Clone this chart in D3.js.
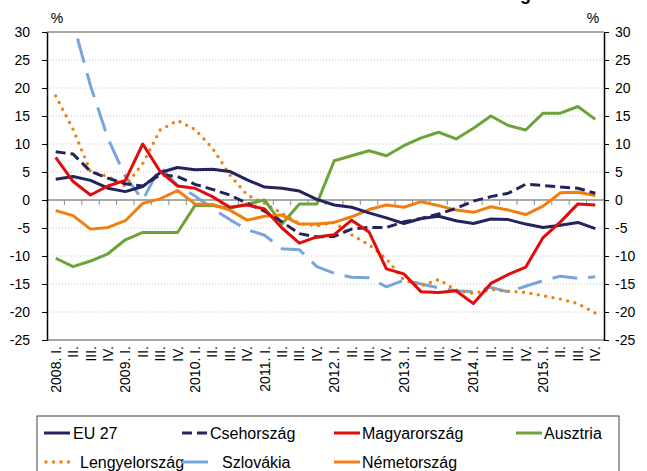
<!DOCTYPE html>
<html lang="hu">
<head>
<meta charset="UTF-8">
<title>Lakásárak éves változása</title>
<script src="https://d3js.org/d3.v7.min.js"></script>
<style>
    body { margin: 0; background: #fff; }
    svg { display: block; font-family: "Liberation Sans", Arial, sans-serif; }
    .lbl { font-size: 14px; fill: #000; }
    .leg { font-size: 16px; fill: #000; }
    .grid { stroke: #c8c8c8; stroke-width: 1; stroke-dasharray: 1,2; }
    .axis path, .axis line { stroke: #000; }
    .axis text { font-size: 14px; fill: #000; font-family: "Liberation Sans", Arial, sans-serif; }
    .serie { fill: none; stroke-linejoin: round; }
</style>
</head>
<body>
<svg id="chart" width="647" height="471"></svg>
<script>
// negyedévek (2008. I. - 2015. IV.)
var quarterLabels = [
    "2008. I.", "II.", "III.", "IV.",
    "2009. I.", "II.", "III.", "IV.",
    "2010. I.", "II.", "III.", "IV.",
    "2011. I.", "II.", "III.", "IV.",
    "2012. I.", "II.", "III.", "IV.",
    "2013. I.", "II.", "III.", "IV.",
    "2014. I.", "II.", "III.", "IV.",
    "2015. I.", "II.", "III.", "IV."
];
var yTicks = [-25, -20, -15, -10, -5, 0, 5, 10, 15, 20, 25, 30];

var eu27 = [3.7, 4.2, 3.5, 2.1, 1.5, 2.4, 4.9, 5.8, 5.4, 5.5, 5.1, 3.6, 2.3, 2.1, 1.6, 0.1,
    -0.9, -1.3, -2.3, -3.2, -4.2, -3.3, -2.9, -3.7, -4.2, -3.4, -3.5, -4.3, -4.9, -4.5, -4.0, -5.1];
var cseh = [8.6, 8.2, 5.1, 3.9, 2.9, 2.5, 4.5, 4.2, 2.8, 1.9, 0.9, -0.6, -2.0, -3.9, -6.0, -6.6,
    -6.5, -5.2, -4.9, -4.9, -3.9, -3.3, -2.5, -1.5, -0.2, 0.6, 1.2, 2.8, 2.6, 2.3, 2.1, 1.2];
var magyar = [7.6, 3.3, 0.9, 2.5, 3.5, 10.0, 5.1, 2.5, 2.1, 0.6, -1.3, -0.9, -1.6, -5.0, -7.7, -6.6,
    -6.2, -3.6, -5.7, -12.3, -13.2, -16.4, -16.5, -16.2, -18.5, -14.9, -13.3, -12.0, -6.7, -3.9, -0.7, -0.9];
var ausztria = [-10.4, -11.9, -10.9, -9.6, -7.1, -5.8, -5.8, -5.8, -1.0, -1.0, -1.5, -0.7, 0.0, -4.3, -0.7, -0.7,
    7.0, 7.9, 8.8, 7.9, 9.7, 11.1, 12.1, 10.9, 12.8, 15.0, 13.3, 12.5, 15.5, 15.5, 16.7, 14.4];
var lengyel = [18.6, 12.6, 5.1, 4.2, 2.5, 6.5, 12.5, 14.2, 12.6, 9.3, 4.5, 0.9, -0.6, -2.4, -4.2, -4.6,
    -4.0, -6.2, -8.0, -10.5, -14.3, -15.3, -14.2, -16.1, -16.7, -16.0, -16.3, -16.5, -17.1, -17.7, -18.5, -20.2];
var szlovak = [null, 31.7, 20.4, 11.0, 4.2, 0.0, 5.9, 2.6, 0.7, -1.5, -3.5, -5.3, -6.3, -8.7, -8.9, -11.9,
    -13.1, -13.8, -13.9, -15.5, -14.3, -15.0, -15.7, -16.2, -16.4, -15.6, -16.4, -15.4, -14.4, -13.6, -14.0, -13.7];
var nemet = [-1.9, -2.8, -5.2, -4.9, -3.7, -0.6, 0.2, 1.7, -0.7, -0.8, -1.8, -3.6, -2.9, -2.7, -4.3, -4.3,
    -4.0, -3.0, -1.7, -0.9, -1.3, -0.3, -1.0, -1.8, -2.2, -1.2, -1.8, -2.6, -1.1, 1.3, 1.4, 0.8];

var navy = "#23235e", red = "#e20a0a", green = "#6da33a", orange = "#f07f10", lightBlue = "#78a6dc";

// rajzolási sorrend
var series = [
    {name: "Szlovákia", values: szlovak, color: lightBlue, dash: "25,11", offset: 19.4, cap: "butt", width: 3, col: 1, row: 1, gap: 14},
    {name: "Lengyelország", values: lengyel, color: orange, dash: "0,7.5", offset: 0, cap: "round", width: 3.4, col: 0, row: 1, gap: 10},
    {name: "Ausztria", values: ausztria, color: green, dash: null, offset: 0, cap: "butt", width: 3, col: 3, row: 0, gap: 2},
    {name: "Németország", values: nemet, color: orange, dash: null, offset: 0, cap: "butt", width: 3, col: 2, row: 1, gap: 2},
    {name: "Csehország", values: cseh, color: navy, dash: "10,5", offset: 0, cap: "butt", width: 3, col: 1, row: 0, gap: 2},
    {name: "EU 27", values: eu27, color: navy, dash: null, offset: 0, cap: "butt", width: 3, col: 0, row: 0, gap: 3},
    {name: "Magyarország", values: magyar, color: red, dash: null, offset: 0, cap: "butt", width: 3, col: 2, row: 0, gap: 2}
];

var config = {
    left: 47, right: 604, top: 32, bottom: 340,
    legend_x: 37, legend_y: 416, legend_w: 582,
    legend_cols: [44, 182, 334, 516], legend_rows: [433, 462], legend_line: 26
};

var svg = d3.select("#chart");

var x = d3.scaleBand()
    .domain(d3.range(quarterLabels.length))
    .range([config.left, config.right]);
var y = d3.scaleLinear()
    .domain([-25, 30])
    .range([config.bottom, config.top]);

// cím (a kép tetején levágva, csak a "g" alja látszik)
svg.append("text")
    .attr("x", 531).attr("y", -0.5)
    .attr("text-anchor", "end")
    .style("font-size", "18px").style("font-weight", "bold")
    .text("Lakásárak éves változása Ausztria és Németország");

svg.append("defs").append("clipPath").attr("id", "plot-clip")
    .append("rect")
    .attr("x", config.left).attr("y", config.top)
    .attr("width", config.right - config.left).attr("height", config.bottom - config.top);

// rácsvonalak
svg.selectAll("line.grid")
    .data(yTicks.filter(function(v){ return v != 0 && v != -25 && v != 30; }))
    .enter().append("line")
    .attr("class", "grid")
    .attr("x1", config.left).attr("x2", config.right)
    .attr("y1", function(d){ return y(d); }).attr("y2", function(d){ return y(d); });

// felső és alsó keret, nulla vonal
[30, -25, 0].forEach(function(v){
    svg.append("line")
        .attr("x1", config.left).attr("x2", config.right)
        .attr("y1", y(v)).attr("y2", y(v))
        .attr("stroke", "#8c8c8c").attr("stroke-width", 1.5);
});

// kategória jelölők a nulla vonalon
svg.selectAll("line.qtick")
    .data(d3.range(1, quarterLabels.length))
    .enter().append("line")
    .attr("class", "qtick")
    .attr("x1", function(i){ return x(i); }).attr("x2", function(i){ return x(i); })
    .attr("y1", y(0)).attr("y2", y(0) + 5)
    .attr("stroke", "#8c8c8c").attr("stroke-width", 1);

// függőleges tengelyek
var fmt = function(d){ return String(d); };
svg.append("g").attr("class", "axis")
    .attr("transform", "translate(" + config.left + ",0)")
    .call(d3.axisLeft(y).tickValues(yTicks).tickSize(5).tickSizeOuter(0).tickPadding(12).tickFormat(fmt));
svg.append("g").attr("class", "axis")
    .attr("transform", "translate(" + config.right + ",0)")
    .call(d3.axisRight(y).tickValues(yTicks).tickSize(5).tickSizeOuter(0).tickPadding(6).tickFormat(fmt));
svg.selectAll(".axis path").attr("stroke-width", 1.5);

svg.append("text").attr("class", "lbl").attr("x", 57).attr("y", 23).attr("text-anchor", "middle").text("%");
svg.append("text").attr("class", "lbl").attr("x", 593).attr("y", 23).attr("text-anchor", "middle").text("%");

// negyedév feliratok
svg.selectAll("text.qlabel")
    .data(quarterLabels)
    .enter().append("text")
    .attr("class", "lbl qlabel")
    .attr("text-anchor", "end")
    .attr("transform", function(d, i){
        return "translate(" + (x(i) + x.bandwidth() / 2 + 5) + "," + (config.bottom + 6) + ") rotate(-90)";
    })
    .text(function(d){ return d; });

// vonalak
var line = d3.line()
    .defined(function(d){ return d != null; })
    .x(function(d, i){ return x(i) + x.bandwidth() / 2; })
    .y(function(d){ return y(d); });

var plot = svg.append("g").attr("clip-path", "url(#plot-clip)");
series.forEach(function(s){
    plot.append("path")
        .datum(s.values)
        .attr("class", "serie")
        .attr("d", line)
        .attr("stroke", s.color)
        .attr("stroke-width", s.width)
        .attr("stroke-linecap", s.cap)
        .attr("stroke-dasharray", s.dash)
        .attr("stroke-dashoffset", s.offset);
});

// jelmagyarázat
svg.append("rect")
    .attr("x", config.legend_x).attr("y", config.legend_y)
    .attr("width", config.legend_w).attr("height", 80)
    .attr("fill", "none").attr("stroke", "#404040").attr("stroke-width", 1);

var legendOrder = ["EU 27", "Csehország", "Magyarország", "Ausztria", "Lengyelország", "Szlovákia", "Németország"];
legendOrder.forEach(function(name){
    var s = series.filter(function(d){ return d.name == name; })[0];
    var lx = config.legend_cols[s.col], ly = config.legend_rows[s.row];
    svg.append("line")
        .attr("x1", lx + (s.cap == "round" ? 2 : 0)).attr("x2", lx + config.legend_line)
        .attr("y1", ly).attr("y2", ly)
        .attr("stroke", s.color).attr("stroke-width", s.width)
        .attr("stroke-linecap", s.cap)
        .attr("stroke-dasharray", s.dash == "25,11" ? null : s.dash);
    svg.append("text")
        .attr("class", "leg")
        .attr("x", lx + config.legend_line + s.gap).attr("y", ly + 6)
        .text(s.name);
});
</script>
</body>
</html>
